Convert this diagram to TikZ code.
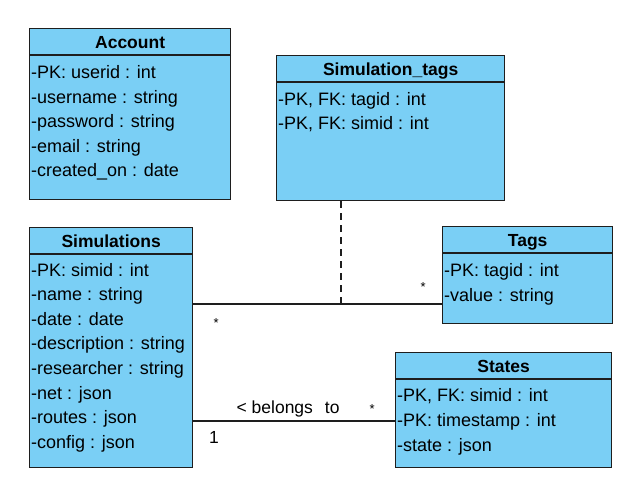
\documentclass[tikz,border=0pt]{standalone}
\usepackage{fontspec}
\setmainfont{Liberation Sans}
\usetikzlibrary{calc, positioning}
\definecolor{umlblue}{RGB}{122,207,245}
\definecolor{umlline}{RGB}{30,30,30}

\begin{document}
\begin{tikzpicture}[x=1pt, y=-1pt,
		classbox/.style={draw=umlline, fill=umlblue, line width=1.3pt, anchor=north west, inner sep=0pt},
		classhead/.style={font=\fontsize{17.5}{20}\selectfont\bfseries, inner sep=0pt, text height=12.5pt, text depth=0pt},
		attr/.style={font=\fontsize{18}{20}\selectfont, anchor=west, inner sep=0pt, text height=12.5pt, text depth=0pt},
		rel/.style={draw=umlline, line width=1.2pt},
		mult/.style={font=\fontsize{17.5}{20}\selectfont, inner sep=0pt, text height=12pt, text depth=0pt},
		star/.style={font=\fontsize{13}{15}\selectfont, inner sep=0pt, text height=12pt, text depth=0pt}
		]
		\useasboundingbox (0,0) rectangle (640,501);
		
		% Les classes
		\node[classbox, minimum width=201, minimum height=171] (acc) at (29,28) {};
		\node[classbox, minimum width=228, minimum height=145] (stags) at (276,55) {};
		\node[classbox, minimum width=163, minimum height=240] (sims) at (29,227) {};
		\node[classbox, minimum width=170, minimum height=97] (tags) at (442,226) {};
		\node[classbox, minimum width=216, minimum height=115] (states) at (395,352) {};
		
		% Les en-tetes
		\foreach \c/\title in {acc/Account, stags/Simulation\_tags, sims/Simulations, tags/Tags, states/States}{
			\draw[classbox] ($(\c.north west)+(0,27)$) -- ($(\c.north east)+(0,27)$);
			\node[classhead] (\c-title) at ($(\c.north)+(0,14)$) {\title};
		}
		
		% Les attributs
		\foreach \txt [count=\i] in {-PK: userid : int, -username : string, -password : string, -email : string, -created\_on : date}
			\node[attr] (acc-\i) at (31, 72.5+24.5*\i-24.5) {\txt};
		\foreach \txt [count=\i] in {{-PK, FK: tagid : int}, {-PK, FK: simid : int}}
			\node[attr] (stags-\i) at (278, 99.3+24*\i-24) {\txt};
		\foreach \txt [count=\i] in {-PK: simid : int, -name : string, -date : date, -description : string, -researcher : string, -net : json, -routes : json, -config : json}
			\node[attr] (sims-\i) at (31, 270+24.57*\i-24.57) {\txt};
		\foreach \txt [count=\i] in {-PK: tagid : int, -value : string}
			\node[attr] (tags-\i) at (444, 270+25*\i-25) {\txt};
		\foreach \txt [count=\i] in {{-PK, FK: simid : int}, -PK: timestamp : int, -state : json}
			\node[attr] (states-\i) at (397, 395+25*\i-25) {\txt};
		
		% Les associations
		\coordinate (hasTags) at (341,304);
		\coordinate (belongs) at (0,421);
		\draw[rel] (sims.east |- hasTags) -- (tags.west |- hasTags)
			node[star, pos=0.092, yshift=-17.7pt] (m1) {*}
			node[star, pos=0.924, yshift=18.3pt] (m2) {*};
		\draw[rel, dash pattern=on 7pt off 5pt] (stags.south -| hasTags) -- (hasTags);
		\draw[rel] (sims.east |- belongs) -- (states.west |- belongs)
			node[mult, pos=0.47, yshift=13.5pt] (lbl) {< belongs\hspace{12pt}to}
			node[star, pos=0.887, yshift=13.3pt] (m3) {*}
			node[mult, pos=0.103, yshift=-16.5pt] (m4) {1};
	\end{tikzpicture}
\end{document}
